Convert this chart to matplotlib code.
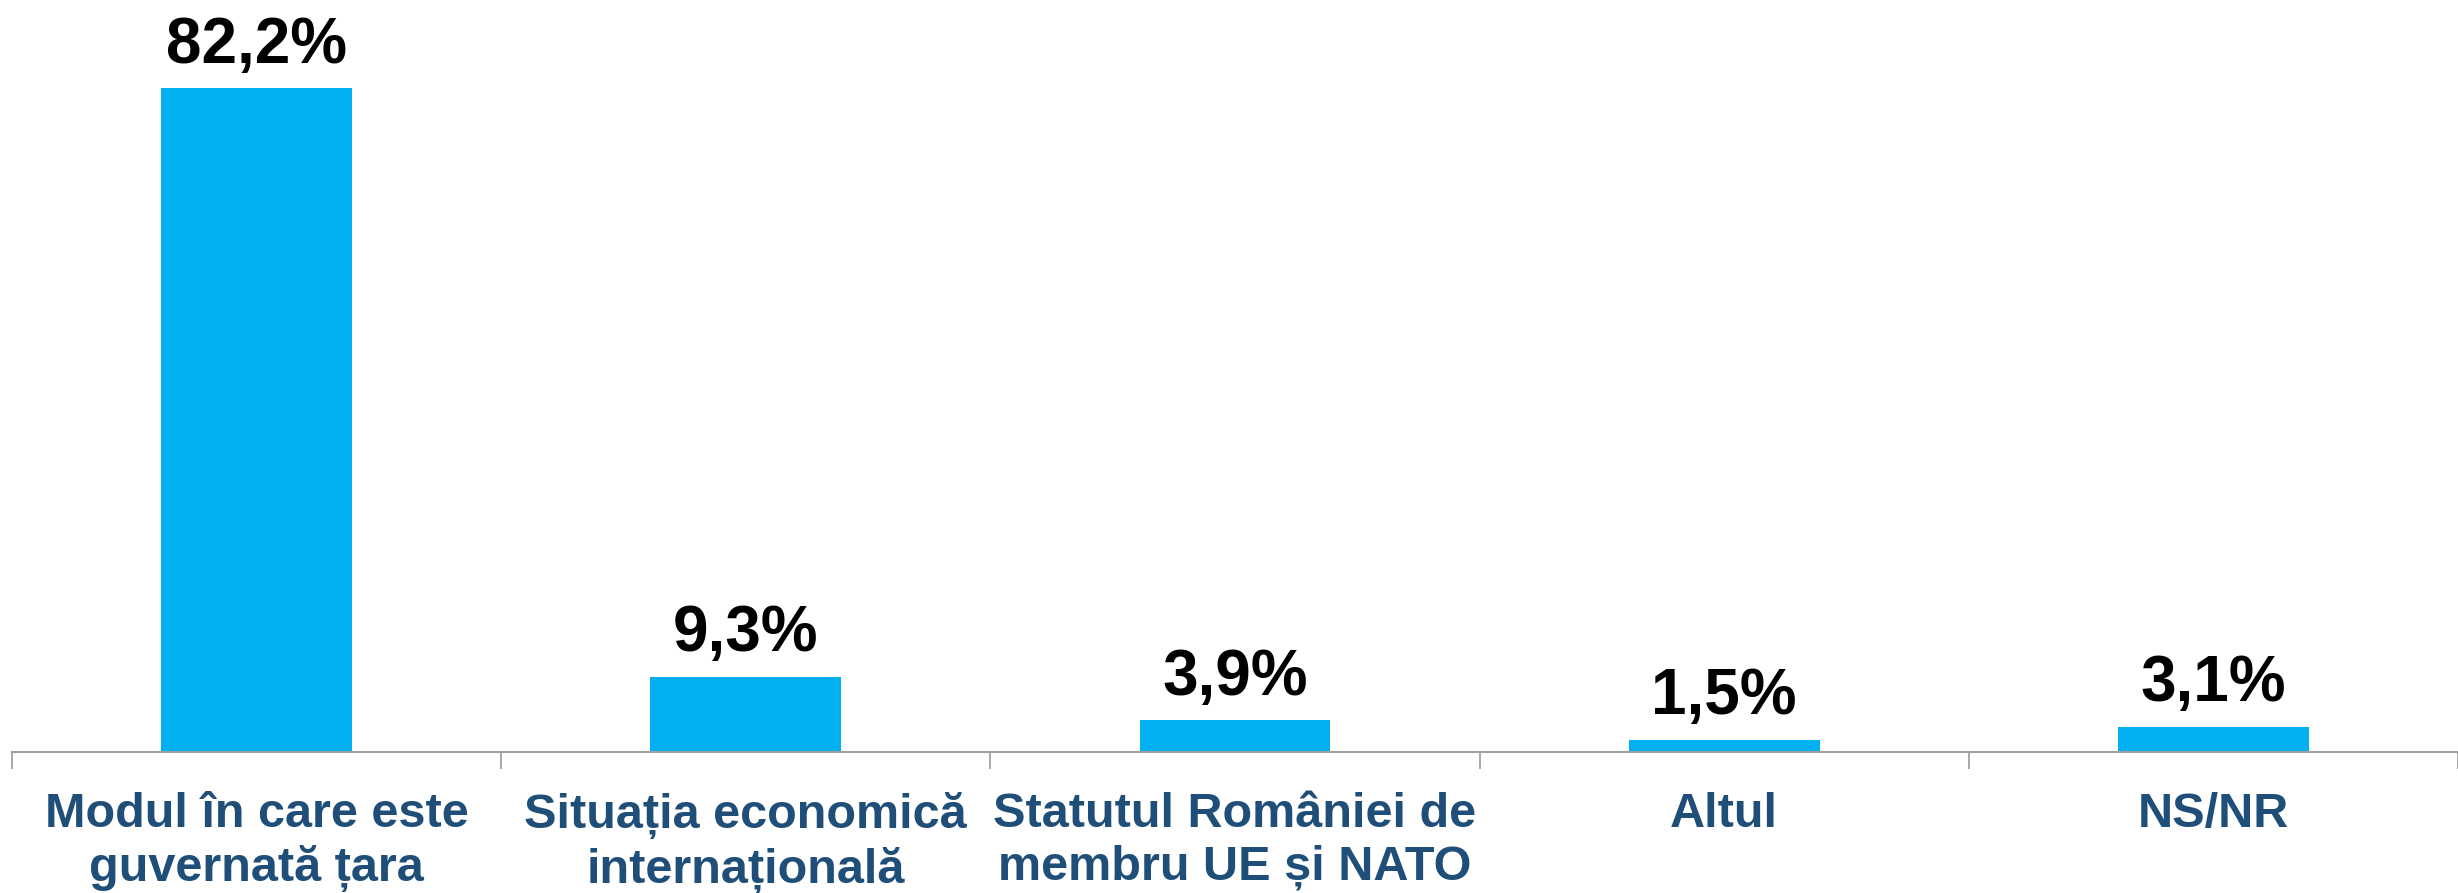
import matplotlib.pyplot as plt
import numpy as np

categories = ['Modul în care este\nguvernată țara',
              'Situația economică\ninternațională',
              'Statutul României de\nmembru UE și NATO',
              'Altul',
              'NS/NR']
values = [82.2, 9.3, 3.9, 1.5, 3.1]
value_labels = ['82,2%', '9,3%', '3,9%', '1,5%', '3,1%']

bar_color = '#00B0F0'
label_color = '#1F4E79'

fig = plt.figure(figsize=(24.58, 8.93), dpi=100)
ax = fig.add_axes([12 / 2458, 0.158, 1 - 12 / 2458, 0.842])

x = np.arange(len(categories))
bars = ax.bar(x, values, width=0.39, color=bar_color)

for rect, lab in zip(bars, value_labels):
    ax.annotate(lab, (rect.get_x() + rect.get_width() / 2, rect.get_height()),
                xytext=(0, 9), textcoords='offset points', ha='center', va='bottom',
                fontsize=46, fontweight='bold', color='black',
                family=['Liberation Sans', 'DejaVu Sans'])

ax.set_xlim(-0.5, len(categories) - 0.5)
ax.set_ylim(0, 93.1)

ax.set_xticks(x)
ax.set_xticklabels(categories, fontsize=35, fontweight='bold', color=label_color,
                   family=['Liberation Sans', 'DejaVu Sans'],
                   linespacing=1.22)
ax.set_xticks(np.arange(-0.5, len(categories)), minor=True)
ax.tick_params(axis='x', which='major', length=0, pad=29)
ax.tick_params(axis='x', which='minor', length=12, color='#999999', width=1.2)

ax.set_yticks([])
for side in ['top', 'right', 'left']:
    ax.spines[side].set_visible(False)
ax.spines['bottom'].set_color('#A0A0A0')
ax.spines['bottom'].set_linewidth(1.5)

fig.savefig('out.png', dpi=100)
